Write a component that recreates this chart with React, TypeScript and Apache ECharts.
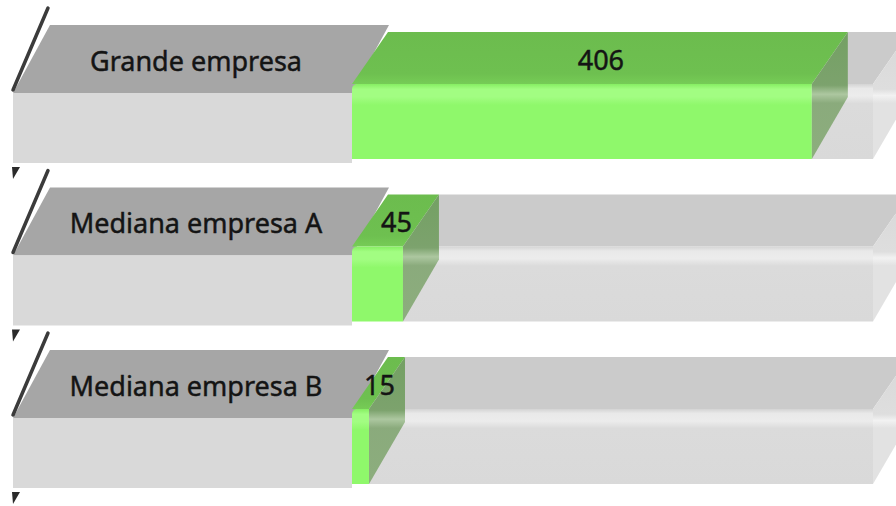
import React, { useEffect, useRef } from "react";
import * as echarts from "echarts";

const categories = ["Grande empresa", "Mediana empresa A", "Mediana empresa B"];
const values = [406, 45, 15];
const axisMax = 460;

export default function App() {
  const ref = useRef<HTMLDivElement>(null);
  useEffect(() => {
    const chart = echarts.init(ref.current!, null, { renderer: "svg" });
    const font = "Noto Sans";
    const lin = (stops: [number, string][]) =>
      new echarts.graphic.LinearGradient(0, 0, 0, 1, stops.map(([offset, color]) => ({ offset, color })));

    const renderItem = (params: any, api: any) => {
      const i = api.value(0);
      const v = api.value(1);
      const p0 = api.coord([0, i]);
      const x0 = p0[0];
      const cy = p0[1];
      const xv = api.coord([v, i])[0];
      const xm = api.coord([axisMax, i])[0];
      const b = cy - 69;
      const lx = 13;
      const ldx = 37;
      const dx = 36;
      const ft = b + 59; // bar front top
      const bt = b + 7; // bar back top
      const fb = b + 134; // bar front bottom
      const bb = b + 72; // bar back bottom
      const textStyle = {
        fill: "#141414",
        stroke: "#141414",
        lineWidth: 0.45,
        font: `27px "${font}"`,
        align: "center",
        verticalAlign: "middle",
      };
      const children: any[] = [
        // label box top face
        {
          type: "polygon",
          shape: { points: [[lx, b + 68], [x0, b + 68], [x0 + ldx, b], [lx + ldx, b]] },
          style: { fill: "#a6a6a6" },
        },
        // label box front face
        {
          type: "rect",
          shape: { x: lx, y: b + 68, width: x0 - lx, height: 70 },
          style: { fill: "#d9d9d9" },
        },
        // axis edge line
        {
          type: "line",
          shape: { x1: 13, y1: b + 65, x2: 48, y2: b - 17 },
          style: { stroke: "rgba(25,25,25,0.85)", lineWidth: 3.5, lineCap: "round" },
        },
        // tick mark
        {
          type: "polygon",
          shape: { points: [[12, b + 142], [20, b + 142], [13, b + 154]] },
          style: { fill: "#2a2a2a" },
        },
        // track top face
        {
          type: "polygon",
          shape: { points: [[xv, ft], [xm, ft], [xm + dx, bt], [xv + dx, bt]] },
          style: { fill: "#cbcbcb" },
        },
        // track front face
        {
          type: "rect",
          shape: { x: xv, y: ft, width: xm - xv, height: fb - ft },
          style: {
            fill: lin([
              [0, "#d4d4d4"],
              [0.06, "#e9e9e9"],
              [0.16, "#ececec"],
              [0.26, "#dbdbdb"],
              [1, "#d9d9d9"],
            ]),
          },
        },
        // track end cap
        {
          type: "polygon",
          shape: { points: [[xm, ft], [xm + dx, bt], [xm + dx, bb], [xm, fb]] },
          style: {
            fill: lin([
              [0, "#d8d8d8"],
              [0.45, "#dedede"],
              [0.5, "#f2f2f2"],
              [0.56, "#e2e2e2"],
              [1, "#e2e2e2"],
            ]),
          },
        },
        // green top face
        {
          type: "polygon",
          shape: { points: [[x0, ft], [xv, ft], [xv + dx, bt], [x0 + dx, bt]] },
          style: { fill: lin([[0, "#6cbc4e"], [0.8, "#6ec050"], [1, "#76cc56"]]) },
        },
        // green front face
        {
          type: "rect",
          shape: { x: x0, y: ft, width: xv - x0, height: fb - ft, r: [5, 0, 0, 0] },
          style: {
            fill: lin([
              [0, "#86ee62"],
              [0.07, "#a2fd82"],
              [0.17, "#a2fd82"],
              [0.28, "#8ff86b"],
              [1, "#8ff86b"],
            ]),
          },
        },
        // green end cap (semi-transparent)
        {
          type: "polygon",
          shape: { points: [[xv, ft], [xv + dx, bt], [xv + dx, bb], [xv, fb]] },
          style: {
            fill: lin([
              [0, "#6f9e5e"],
              [0.42, "#78a068"],
              [0.49, "#a9c59c"],
              [0.56, "#86a877"],
              [1, "#88ab78"],
            ]),
            opacity: 0.95,
          },
        },
        // category label
        {
          type: "text",
          style: { ...textStyle, x: 196, y: b + 35, text: categories[i] },
        },
        // value label
        {
          type: "text",
          style: { ...textStyle, x: (x0 + xv) / 2 + dx / 2 + 1, y: b + 34, text: String(v) },
        },
      ];
      return { type: "group", children };
    };

    chart.setOption({
      animation: false,
      grid: { left: 352, right: 23, top: 12.75, bottom: 5.75 },
      xAxis: { type: "value", min: 0, max: axisMax, show: false },
      yAxis: { type: "category", data: categories, inverse: true, show: false },
      series: [
        {
          type: "custom",
          clip: false,
          encode: { x: 1, y: 0 },
          data: values.map((v, i) => [i, v]),
          renderItem,
        },
      ],
    });
    return () => chart.dispose();
  }, []);
  return (
    <div
      ref={ref}
      style={{ position: "fixed", left: 0, top: 0, width: 896, height: 506, background: "#ffffff" }}
    />
  );
}
